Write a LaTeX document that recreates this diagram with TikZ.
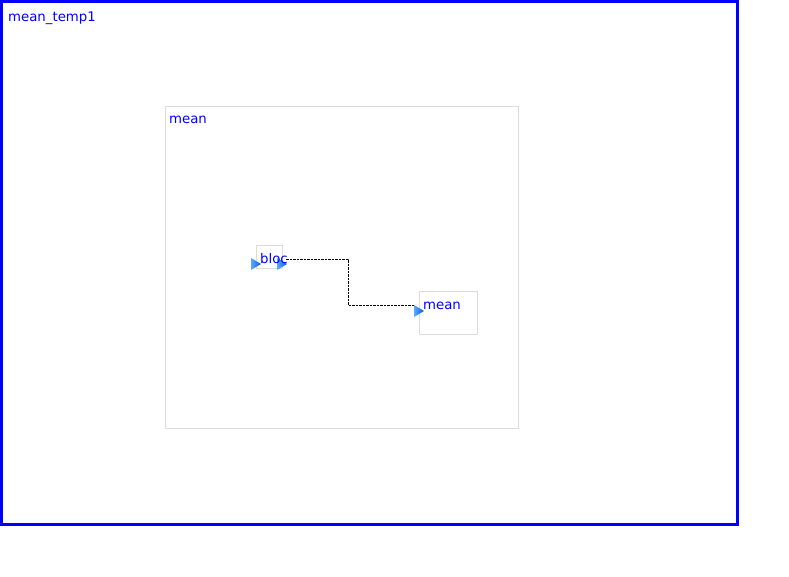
\documentclass[tikz,border=0pt]{standalone}
\usepackage{fontspec}
\setmainfont{DejaVu Sans}
\begin{document}
\begin{tikzpicture}[x=1pt,y=-1pt,
  label/.style={anchor=base west,inner sep=0pt,text=blue,font=\fontsize{13.3}{15}\selectfont},
  outerbox/.style={draw=blue,line width=3pt},
  graybox/.style={draw={rgb,255:red,220;green,220;blue,220},line width=0.8pt},
  portshade/.style={left color={rgb,255:red,90;green,170;blue,255},right color={rgb,255:red,10;green,90;blue,225},draw=none},
  conn/.style={draw=black,line width=0.8pt,dash pattern=on 2.5pt off 1pt}]
\useasboundingbox (0,0) rectangle (789,577);
\fill[white] (0,0) rectangle (789,577);
% outer frame
\draw[outerbox] (1.5,1.5) rectangle (737,524.5);
\node[label] (tOuter) at (8,22) {mean\_temp1};
% inner mean box
\draw[graybox] (165.5,106.5) rectangle (518.5,428.5);
\node[label] (tMean) at (169,123.5) {mean};
% bloc block
\draw[graybox] (256.5,245.5) rectangle (282.5,268.5);
% mean block
\draw[graybox] (419.5,291.5) rectangle (477.5,334.5);
% connector
\coordinate (p1) at (286,259);
\coordinate (p2) at (415,305);
\draw[conn] (p1) -- ++(62,0) |- (p2);
% ports
\shade[portshade] (251,258) -- (261,264) -- (251,270) -- cycle;
\shade[portshade] (277,258) -- (287,264) -- (277,270) -- cycle;
\shade[portshade] (414,305) -- (424,311) -- (414,317) -- cycle;
\node[label] (tBloc) at (260,263) {bloc};
\node[label] (tMean2) at (423,309) {mean};
\end{tikzpicture}
\end{document}
